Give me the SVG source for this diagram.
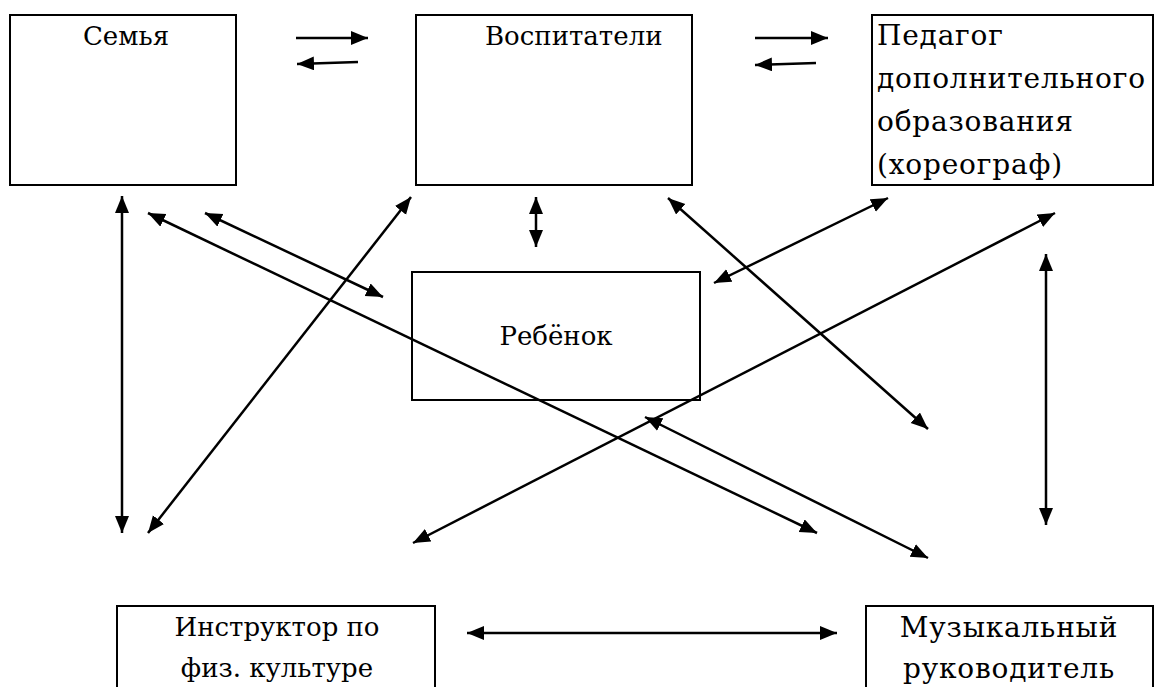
<svg xmlns="http://www.w3.org/2000/svg" width="1161" height="687" viewBox="0 0 1161 687">
<style>
.box{fill:#fff;stroke:#000;stroke-width:2}
.t{font-family:'DejaVu Serif',serif;font-size:26px;fill:#000}
.r{font-size:28px;letter-spacing:0.8px}
.c{text-anchor:middle}
.ln{stroke:#000;stroke-width:2.5;fill:none}
.one{marker-end:url(#ah)}
.two{marker-start:url(#as);marker-end:url(#ah)}
</style>
<defs>
<marker id="ah" markerUnits="userSpaceOnUse" markerWidth="20" markerHeight="16" refX="17" refY="7" orient="auto"><path d="M0,0 L17,7 L0,14 z" fill="#000"/></marker>
<marker id="as" markerUnits="userSpaceOnUse" markerWidth="20" markerHeight="16" refX="17" refY="7" orient="auto-start-reverse"><path d="M0,0 L17,7 L0,14 z" fill="#000"/></marker>
</defs>
<rect width="1161" height="687" fill="#fff"/>
<g id="semya"><rect class="box" x="10" y="15" width="226" height="170"/><text class="t c" x="126" y="45">Семья</text></g>
<g id="vospitateli"><rect class="box" x="416" y="15" width="276" height="170"/><text class="t" x="485" y="45">Воспитатели</text></g>
<g id="pedagog"><rect class="box" x="872" y="15" width="281" height="170"/><text class="t r" x="877" y="45">Педагог</text><text class="t r" x="877" y="88">дополнительного</text><text class="t r" x="877" y="131">образования</text><text class="t r" x="877" y="174">(хореограф)</text></g>
<g id="rebenok"><rect class="box" x="412" y="272" width="288" height="128"/><text class="t c" x="556" y="345">Ребёнок</text></g>
<g id="instruktor"><path class="box" d="M117,700 V606 H435 V700"/><text class="t c" x="277" y="636">Инструктор по</text><text class="t c" x="277" y="677">физ. культуре</text></g>
<g id="muzykalny"><path class="box" d="M866,700 V606 H1153 V700"/><text class="t r c" x="1009" y="637">Музыкальный</text><text class="t r c" x="1009" y="678">руководитель</text></g>
<g id="connectors">
<line class="ln one" x1="296" y1="38" x2="368" y2="38"/>
<line class="ln one" x1="358" y1="62" x2="297" y2="64"/>
<line class="ln one" x1="755" y1="38" x2="828" y2="38"/>
<line class="ln one" x1="816" y1="63" x2="755" y2="65"/>
<line class="ln two" x1="122" y1="196" x2="122" y2="533"/>
<line class="ln two" x1="148" y1="213" x2="817" y2="533"/>
<line class="ln two" x1="205" y1="213" x2="383" y2="297"/>
<line class="ln two" x1="411" y1="197" x2="148" y2="533"/>
<line class="ln two" x1="536" y1="197" x2="536" y2="247"/>
<line class="ln two" x1="668" y1="198" x2="928" y2="429"/>
<line class="ln two" x1="888" y1="198" x2="714" y2="283"/>
<line class="ln two" x1="1055" y1="213" x2="413" y2="543"/>
<line class="ln two" x1="1046" y1="254" x2="1046" y2="525"/>
<line class="ln two" x1="645" y1="417" x2="928" y2="558"/>
<line class="ln two" x1="467" y1="633" x2="837" y2="633"/>
</g>
</svg>
